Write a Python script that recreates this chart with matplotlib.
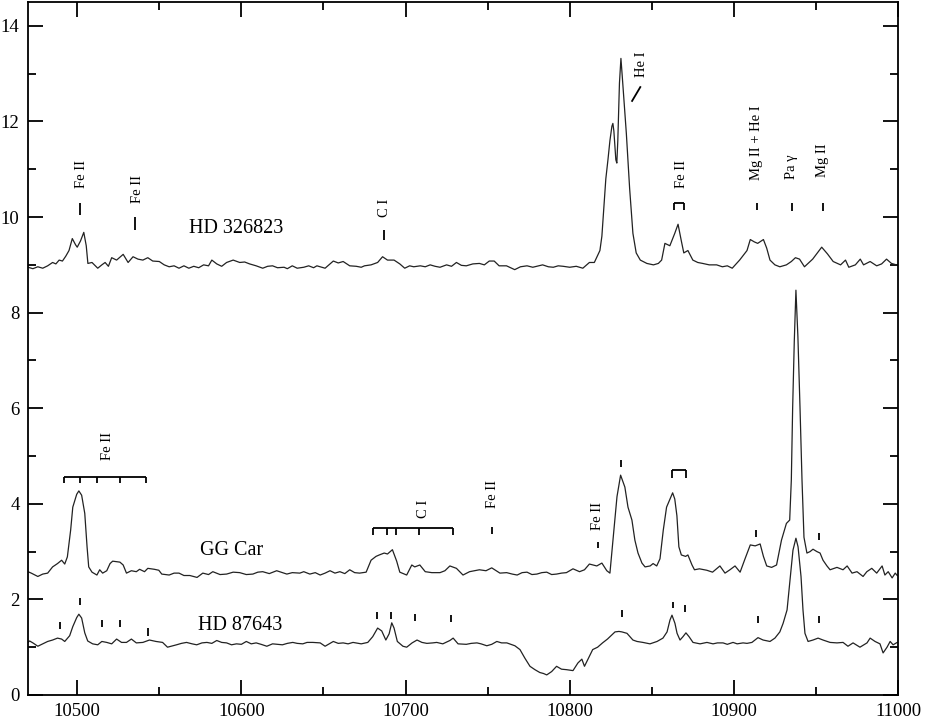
import numpy as np
import matplotlib
matplotlib.use('Agg')
import matplotlib.pyplot as plt
from matplotlib.ticker import MultipleLocator

plt.rcParams['font.family'] = ['Liberation Serif', 'DejaVu Serif']

# HD 326823 (upper spectrum)
hd326823_wl = [10470, 10473, 10476, 10479, 10482, 10485, 10487, 10489, 10491, 10493,
               10495, 10497, 10499, 10500, 10502, 10504, 10505.5, 10506.5, 10509, 10512.5,
               10515, 10517, 10519, 10521, 10524, 10528, 10531, 10534, 10537, 10540,
               10543, 10546, 10550, 10553, 10556, 10559, 10562, 10565, 10568, 10571,
               10574, 10577, 10580, 10582, 10585, 10588, 10591, 10595, 10599, 10602,
               10605, 10609, 10613, 10616, 10619, 10622, 10626, 10628, 10631, 10634,
               10638, 10641, 10644, 10646, 10651, 10656, 10659, 10662, 10666, 10670,
               10673, 10675, 10679, 10683, 10686, 10689, 10693, 10696.5, 10699.5, 10702.5,
               10705, 10709, 10712, 10715, 10718, 10721, 10725, 10728, 10731, 10734,
               10737, 10741, 10745, 10748, 10751, 10754, 10757, 10761.5, 10764, 10766.5,
               10770, 10774, 10777.5, 10781, 10783.5, 10787, 10790, 10793, 10796, 10800,
               10804, 10808, 10812, 10815, 10818.4, 10819.6, 10820.8, 10822, 10823.3, 10824.5,
               10825.7, 10826.3, 10826.9, 10828.1, 10828.7, 10829.3, 10830.3, 10831.2, 10832, 10834.5,
               10836.5, 10838.5, 10840.5, 10843, 10847, 10851, 10854, 10856, 10858, 10861,
               10864, 10866, 10868, 10869.5, 10872, 10875, 10878, 10881, 10885, 10889.5,
               10893, 10896, 10899, 10903.5, 10908, 10910, 10912.5, 10914.5, 10918, 10920,
               10922, 10925, 10928, 10932, 10935, 10937.5, 10940, 10943, 10948, 10953.5,
               10957, 10960.5, 10965, 10968, 10970, 10974, 10977, 10979, 10983, 10987,
               10990, 10993, 10996, 10999]
hd326823_flux = [8.95, 8.92, 8.96, 8.93, 8.98, 9.05, 9.02, 9.1, 9.08, 9.18,
                 9.3, 9.55, 9.42, 9.37, 9.5, 9.68, 9.4, 9.03, 9.05, 8.93,
                 9.0, 9.05, 8.97, 9.15, 9.1, 9.22, 9.05, 9.17, 9.12, 9.1,
                 9.15, 9.08, 9.07, 9.0, 8.96, 8.98, 8.93, 8.98, 8.93, 8.97,
                 8.94, 9.0, 8.98, 9.1, 9.02, 8.97, 9.05, 9.1, 9.05, 9.06,
                 9.02, 8.98, 8.93, 8.97, 8.98, 8.94, 8.95, 8.92, 8.98, 8.93,
                 8.95, 8.98, 8.94, 8.98, 8.93, 9.08, 9.04, 9.07, 8.98, 8.97,
                 8.95, 8.98, 9.0, 9.05, 9.17, 9.1, 9.1, 9.02, 8.93, 8.98,
                 8.96, 8.98, 8.96, 9.0, 8.97, 8.95, 9.0, 8.97, 9.05, 8.99,
                 8.98, 9.02, 9.03, 9.0, 9.08, 9.08, 8.98, 8.98, 8.94, 8.9,
                 8.96, 8.98, 8.95, 8.98, 9.0, 8.96, 8.95, 8.98, 8.97, 8.95,
                 8.97, 8.93, 9.05, 9.05, 9.3, 9.6, 10.2, 10.8, 11.2, 11.6,
                 11.9, 11.96, 11.8, 11.2, 11.13, 11.6, 12.8, 13.32, 12.95, 11.75,
                 10.6, 9.66, 9.25, 9.1, 9.03, 9.0, 9.03, 9.1, 9.45, 9.4,
                 9.66, 9.85, 9.5, 9.25, 9.3, 9.1, 9.05, 9.03, 9.0, 9.0,
                 8.96, 8.98, 8.93, 9.1, 9.3, 9.53, 9.48, 9.45, 9.53, 9.35,
                 9.1, 9.0, 8.96, 9.0, 9.07, 9.15, 9.12, 8.96, 9.12, 9.37,
                 9.23, 9.07, 9.0, 9.1, 8.95, 9.0, 9.12, 9.0, 9.07, 8.98,
                 9.02, 9.12, 9.03, 9.0]

# GG Car (middle spectrum)
ggcar_wl = [10470, 10472, 10476, 10479, 10482, 10485, 10488, 10490.5, 10492.4, 10494,
            10496, 10497.3, 10499.7, 10501, 10502.7, 10504.6, 10506, 10507, 10509, 10512,
            10513.7, 10515.5, 10518, 10520, 10521.6, 10526, 10528, 10530, 10533, 10536,
            10538, 10541, 10543, 10547, 10549.7, 10551.5, 10556, 10559, 10562, 10565,
            10568.6, 10573, 10576.5, 10580, 10582.6, 10587, 10591, 10595, 10599, 10603,
            10607, 10610, 10613, 10617, 10621.5, 10625, 10627.7, 10631, 10635.6, 10638,
            10641.7, 10645, 10648, 10651, 10654, 10657, 10660, 10663, 10666, 10669,
            10672, 10676, 10679, 10682, 10684, 10687, 10689, 10692, 10694.6, 10696.5,
            10700.7, 10703.8, 10705.6, 10708.7, 10712, 10716, 10721, 10724, 10727, 10731,
            10735, 10739, 10745, 10749, 10752.5, 10757.5, 10761.6, 10765, 10768, 10771,
            10774, 10777, 10780, 10783, 10786, 10789, 10792, 10795, 10798, 10802,
            10806, 10809, 10812, 10816.5, 10819.6, 10822.6, 10824.5, 10826.4, 10828.8, 10831,
            10833.6, 10835.5, 10837.9, 10839.7, 10841.6, 10844, 10845.9, 10849, 10850.8, 10853,
            10855, 10857, 10859, 10860.5, 10862.7, 10864, 10865.3, 10866.5, 10868, 10870.6,
            10872, 10874.5, 10876, 10879, 10883.5, 10887, 10891.5, 10894.6, 10897.6, 10900.7,
            10903.8, 10906.8, 10910, 10913, 10916, 10918, 10920, 10923, 10926, 10929,
            10932, 10934, 10935, 10935.8, 10936.8, 10937.8, 10939, 10940.3, 10941.5, 10942.7,
            10944.5, 10946.4, 10948.2, 10950.6, 10952.5, 10954.3, 10956.7, 10958.6, 10962.8, 10966.5,
            10969, 10972, 10975, 10978.7, 10981, 10984, 10987, 10990.3, 10992, 10994,
            10996.4, 10998.3, 10999.5]
ggcar_flux = [2.58, 2.55, 2.48, 2.53, 2.55, 2.68, 2.75, 2.82, 2.74, 2.89,
              3.45, 3.93, 4.2, 4.27, 4.18, 3.8, 3.1, 2.68, 2.57, 2.51,
              2.62, 2.55, 2.6, 2.75, 2.8, 2.78, 2.72, 2.55, 2.6, 2.58,
              2.63, 2.58, 2.65, 2.63, 2.61, 2.53, 2.51, 2.55, 2.55, 2.5,
              2.5, 2.46, 2.55, 2.52, 2.58, 2.52, 2.53, 2.57, 2.56, 2.52,
              2.53, 2.57, 2.58, 2.54, 2.6, 2.56, 2.53, 2.56, 2.55, 2.58,
              2.53, 2.56, 2.51, 2.55, 2.6, 2.55, 2.58, 2.54, 2.62, 2.56,
              2.55, 2.57, 2.82, 2.9, 2.93, 2.97, 2.95, 3.04, 2.8, 2.57,
              2.51, 2.72, 2.68, 2.72, 2.58, 2.56, 2.56, 2.6, 2.7, 2.65,
              2.51, 2.58, 2.62, 2.6, 2.66, 2.55, 2.56, 2.53, 2.51, 2.56,
              2.57, 2.52, 2.53, 2.56, 2.57, 2.52, 2.53, 2.55, 2.56, 2.64,
              2.58, 2.62, 2.74, 2.7, 2.76, 2.6, 2.55, 3.25, 4.15, 4.6,
              4.35, 3.93, 3.66, 3.24, 2.97, 2.76, 2.68, 2.7, 2.75, 2.7,
              2.85, 3.45, 3.93, 4.05, 4.23, 4.1, 3.75, 3.1, 2.93, 2.9,
              2.93, 2.72, 2.62, 2.64, 2.61, 2.57, 2.7, 2.55, 2.62, 2.7,
              2.57, 2.85, 3.14, 3.12, 3.16, 2.9, 2.7, 2.67, 2.72, 3.24,
              3.59, 3.66, 4.5, 6.0, 7.4, 8.47, 7.5, 6.0, 4.5, 3.3,
              2.97, 3.0, 3.05, 3.0, 2.97, 2.82, 2.7, 2.62, 2.67, 2.62,
              2.7, 2.55, 2.58, 2.48, 2.58, 2.65, 2.55, 2.7, 2.51, 2.58,
              2.45, 2.55, 2.5]

# HD 87643 (lower spectrum)
hd87643_wl = [10470, 10471, 10473, 10476, 10479, 10482, 10485, 10488, 10490.5, 10492.4,
              10495.4, 10497.3, 10499.7, 10501, 10502.7, 10504.6, 10506.4, 10509.4, 10512.5, 10515,
              10518, 10521, 10524, 10527, 10530, 10533, 10536, 10540, 10544, 10548,
              10552, 10555, 10560.5, 10563.5, 10566.6, 10570, 10572.8, 10576, 10579, 10582,
              10585, 10588, 10591, 10594, 10597, 10600, 10603, 10606, 10609, 10612,
              10615.5, 10619, 10622, 10625, 10628, 10631.3, 10634, 10637.4, 10640, 10643.5,
              10648, 10651, 10656, 10659, 10662, 10665, 10668, 10673, 10677, 10680,
              10683, 10685.5, 10688, 10690, 10691.6, 10693, 10695, 10698.4, 10700.7, 10704,
              10707, 10710, 10713, 10716.6, 10719, 10722.7, 10727, 10729, 10732, 10737,
              10740, 10743.5, 10746, 10749.5, 10752.5, 10755.6, 10758.5, 10761.7, 10766.6, 10769.7,
              10772.7, 10775.8, 10778.8, 10781.8, 10784, 10786, 10789, 10792, 10795, 10798,
              10802, 10805, 10807.4, 10809, 10812, 10814, 10817, 10820, 10823, 10827.6,
              10830, 10831.8, 10834.9, 10836.7, 10838.5, 10841, 10844.6, 10848.9, 10853.2, 10856.8,
              10859.3, 10861.1, 10862.3, 10864.1, 10865.4, 10867.2, 10869, 10870.8, 10872.7, 10875.1,
              10879.4, 10883.6, 10887.3, 10890, 10893.4, 10896, 10899.5, 10902, 10905.6, 10908,
              10911, 10914.7, 10917.8, 10922, 10925, 10928, 10930, 10932.4, 10934.2, 10936,
              10937.8, 10939.1, 10940.9, 10942.1, 10943.3, 10945.2, 10948.2, 10951.3, 10954.3, 10958.6,
              10962.8, 10966.5, 10969.5, 10972.6, 10976.8, 10981.1, 10983, 10986, 10989, 10990.9,
              10993.3, 10995.2, 10997, 10999.5]
hd87643_flux = [1.1, 1.13, 1.09, 1.02, 1.07, 1.12, 1.15, 1.19, 1.17, 1.12,
                1.24, 1.43, 1.62, 1.69, 1.61, 1.3, 1.13, 1.07, 1.05, 1.12,
                1.1, 1.07, 1.17, 1.1, 1.1, 1.17, 1.09, 1.1, 1.15, 1.12,
                1.1, 1.0, 1.05, 1.08, 1.1, 1.07, 1.05, 1.09, 1.1, 1.08,
                1.14, 1.1, 1.09, 1.05, 1.07, 1.06, 1.12, 1.07, 1.09, 1.06,
                1.02, 1.07, 1.06, 1.05, 1.08, 1.1, 1.08, 1.07, 1.1, 1.1,
                1.09, 1.02, 1.12, 1.08, 1.09, 1.07, 1.1, 1.07, 1.1, 1.22,
                1.4, 1.34, 1.15, 1.28, 1.51, 1.4, 1.12, 1.02, 1.0, 1.09,
                1.15, 1.1, 1.08, 1.09, 1.1, 1.07, 1.14, 1.19, 1.07, 1.06,
                1.08, 1.09, 1.07, 1.03, 1.06, 1.12, 1.09, 1.09, 1.03, 0.95,
                0.77, 0.6, 0.53, 0.47, 0.45, 0.42, 0.49, 0.6, 0.54, 0.53,
                0.51, 0.67, 0.75, 0.6, 0.81, 0.95, 1.0, 1.09, 1.17, 1.32,
                1.33, 1.32, 1.29, 1.22, 1.15, 1.12, 1.1, 1.07, 1.12, 1.19,
                1.32, 1.57, 1.67, 1.5, 1.29, 1.15, 1.22, 1.3, 1.22, 1.1,
                1.07, 1.1, 1.07, 1.09, 1.09, 1.06, 1.1, 1.07, 1.09, 1.08,
                1.1, 1.2, 1.15, 1.12, 1.19, 1.32, 1.5, 1.78, 2.4, 3.03,
                3.28, 3.1, 2.48, 1.78, 1.29, 1.12, 1.15, 1.19, 1.15, 1.1,
                1.09, 1.1, 1.02, 1.09, 1.0, 1.09, 1.19, 1.12, 1.07, 0.88,
                1.0, 1.12, 1.05, 1.1]

star_names = ['HD 326823', 'GG Car', 'HD 87643']

# line identifications, upper spectrum
top_ticks_wl = [10501.5, 10535, 10687, 10914, 10935.5, 10954]
top_labels = ['Fe II', 'Fe II', 'C I', 'He I', 'Fe II', 'Mg II + He I', 'Pa γ', 'Mg II']
top_labels_wl = [10502.7, 10537, 10687.2, 10844, 10868.4, 10914, 10935.4, 10953.7]
top_feii_pair = [10863.5, 10869.5]

# line identifications, GG Car
gg_feii_group = [10492, 10501.5, 10512, 10526, 10542]
gg_ci_group = [10680, 10689, 10694, 10708, 10729]
gg_labels = ['Fe II', 'C I', 'Fe II', 'Fe II']
gg_labels_wl = [10518.6, 10711, 10753, 10817]
gg_feii_pair = [10862.5, 10871]

# line identifications, HD 87643
low_ticks_wl = [10489.5, 10502, 10515, 10526, 10543, 10682.5, 10691, 10706, 10727.6,
                10832, 10863, 10870, 10915, 10952]


def mark(ax, x, y0, y1):
    ax.plot([x, x], [y0, y1], color='black', lw=1.3, solid_capstyle='butt')


def bracket(ax, xs, top, bottom):
    ax.plot([min(xs), max(xs)], [top, top], color='black', lw=1.3, solid_capstyle='butt')
    for x in xs:
        mark(ax, x, bottom, top)


def vlabel(ax, x, y, s):
    ax.text(x, y, s, rotation=90, ha='center', va='bottom', fontsize=10.5)


fig = plt.figure(figsize=(9.26, 7.19), dpi=100)
ax = fig.add_axes([0.0302, 0.0334, 0.9396, 0.9638])

for wl, fl in [(hd326823_wl, hd326823_flux), (ggcar_wl, ggcar_flux), (hd87643_wl, hd87643_flux)]:
    ax.plot(wl, fl, color='#222222', lw=0.9)

# star names
ax.text(10597, 9.77, star_names[0], ha='center', va='center', fontsize=14.5)
ax.text(10594, 3.03, star_names[1], ha='center', va='center', fontsize=14.5)
ax.text(10599, 1.46, star_names[2], ha='center', va='center', fontsize=14.5)

# upper spectrum markers
top_tick_levels = [(10.04, 10.29), (9.73, 10.0), (9.53, 9.73), (10.15, 10.3), (10.13, 10.3), (10.13, 10.3)]
for x, (y0, y1) in zip(top_ticks_wl, top_tick_levels):
    mark(ax, x, y0, y1)
ax.plot([10838, 10843], [12.43, 12.72], color='black', lw=1.3)
bracket(ax, top_feii_pair, 10.29, 10.15)
top_label_y = [10.6, 10.29, 10.0, 12.93, 10.6, 10.77, 10.8, 10.84]
for x, y, s in zip(top_labels_wl, top_label_y, top_labels):
    vlabel(ax, x, y, s)

# GG Car markers
bracket(ax, gg_feii_group, 4.56, 4.43)
bracket(ax, gg_ci_group, 3.49, 3.35)
bracket(ax, gg_feii_pair, 4.7, 4.54)
mark(ax, 10752.5, 3.37, 3.51)
mark(ax, 10817, 3.07, 3.2)
mark(ax, 10831, 4.77, 4.92)
mark(ax, 10913.5, 3.3, 3.45)
mark(ax, 10951.7, 3.24, 3.39)
gg_label_y = [4.92, 3.7, 3.91, 3.45]
for x, y, s in zip(gg_labels_wl, gg_label_y, gg_labels):
    vlabel(ax, x, y, s)

# HD 87643 markers
low_tick_levels = [(1.38, 1.53), (1.88, 2.03), (1.42, 1.57), (1.42, 1.57), (1.23, 1.4),
                   (1.6, 1.73), (1.6, 1.73), (1.55, 1.7), (1.53, 1.67), (1.63, 1.78),
                   (1.82, 1.95), (1.74, 1.88), (1.5, 1.65), (1.5, 1.65)]
for x, (y0, y1) in zip(low_ticks_wl, low_tick_levels):
    mark(ax, x, y0, y1)

ax.set_xlim(10470, 11000)
ax.set_ylim(0, 14.5)
ax.xaxis.set_major_locator(MultipleLocator(100))
ax.xaxis.set_minor_locator(MultipleLocator(50))
ax.yaxis.set_major_locator(MultipleLocator(2))
ax.yaxis.set_minor_locator(MultipleLocator(1))
ax.tick_params(which='both', direction='in', top=True, right=True, width=1.3,
               labelsize=13.5, pad=6)
ax.tick_params(which='major', length=11)
ax.tick_params(which='minor', length=5.5)
for sp in ax.spines.values():
    sp.set_linewidth(1.3)

fig.savefig('out.png', dpi=100)
